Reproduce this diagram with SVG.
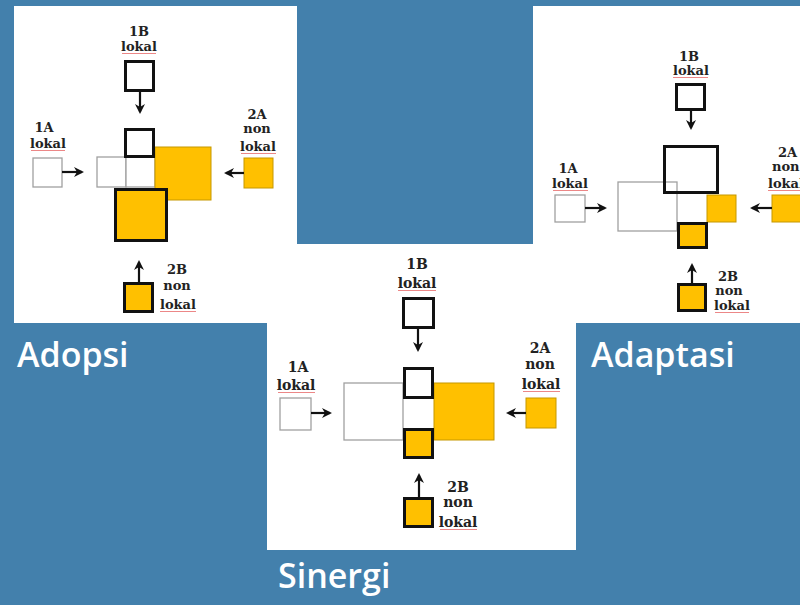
<svg xmlns="http://www.w3.org/2000/svg" width="800" height="605" viewBox="0 0 800 605">
<defs>
<style>
.panel{fill:#ffffff}
.thick{fill:none;stroke:#111;stroke-width:3}
.thickw{fill:#fff;stroke:#111;stroke-width:3}
.thin{fill:#fff;stroke:#a0a0a0;stroke-width:1.3}
.yel{fill:#FFC000;stroke:#c59800;stroke-width:1}
.yelthick{fill:#FFC000;stroke:#111;stroke-width:3}
.lbl{font-family:"DejaVu Serif",serif;font-weight:bold;font-size:13px;fill:#222;text-anchor:middle}
.lbl3{font-family:"DejaVu Serif",serif;font-weight:bold;font-size:14px;fill:#222;text-anchor:middle}
.ul{stroke:#e86a6a;stroke-width:1;opacity:0.8}
.arr{stroke:#111;stroke-width:2.2;fill:none;marker-end:url(#ah)}
.title{font-family:"Open Sans","Liberation Sans",sans-serif;font-weight:600;font-size:34px;fill:#ffffff}
</style>
<marker id="ah" viewBox="0 0 10 10" refX="8" refY="5" markerWidth="10" markerHeight="10" markerUnits="userSpaceOnUse" orient="auto">
<path d="M0,0 L10,5 L0,10 L3,5 z" fill="#111"/>
</marker>
</defs>
<rect x="0" y="0" width="800" height="605" fill="#4380ac"/>
<g id="panels">
<rect class="panel" x="14" y="6" width="283" height="317"/>
<rect class="panel" x="533" y="6" width="267" height="317"/>
<rect class="panel" x="267" y="244" width="309" height="306"/>
</g>

<!-- Panel 1: Adopsi -->
<g id="adopsi">
<g id="a-center">
<rect class="thin" x="97" y="157" width="29" height="30"/>
<rect class="thin" x="126" y="157" width="29" height="30"/>
<rect class="yel" x="155" y="147" width="56" height="53"/>
<rect class="thickw" x="125.5" y="129.5" width="28" height="27"/>
<rect class="yelthick" x="115.5" y="189.5" width="51" height="51"/>
</g>
<g id="a-1B">
<rect class="thickw" x="125.5" y="61.5" width="28" height="29"/>
<text class="lbl" x="139" y="36">1B</text>
<text class="lbl" x="139" y="51">lokal</text>
<line class="ul" x1="122" y1="53.5" x2="156" y2="53.5"/>
</g>
<g id="a-1A">
<rect class="thin" x="33" y="158" width="29" height="29"/>
<text class="lbl" x="44" y="132">1A</text>
<text class="lbl" x="48" y="148">lokal</text>
<line class="ul" x1="31" y1="150.5" x2="65" y2="150.5"/>
</g>
<g id="a-2A">
<rect class="yel" x="244" y="158" width="29" height="30"/>
<text class="lbl" x="257" y="119">2A</text>
<text class="lbl" x="257" y="133">non</text>
<text class="lbl" x="258" y="151">lokal</text>
<line class="ul" x1="241" y1="153.5" x2="276" y2="153.5"/>
</g>
<g id="a-2B">
<rect class="yelthick" x="124.5" y="283.5" width="28" height="28"/>
<text class="lbl" x="177" y="274">2B</text>
<text class="lbl" x="177" y="290">non</text>
<text class="lbl" x="178" y="309">lokal</text>
<line class="ul" x1="160" y1="311.5" x2="196" y2="311.5"/>
</g>
</g>

<!-- Panel 2: Adaptasi -->
<g id="adaptasi">
<g id="b-center">
<rect class="thin" x="618" y="182" width="59" height="49"/>
<rect class="yel" x="707" y="195" width="29" height="27"/>
<rect class="thick" x="664.5" y="146.5" width="53" height="46"/>
<rect class="yelthick" x="678.5" y="223.5" width="28" height="24"/>
</g>
<g id="b-1B">
<rect class="thickw" x="676.5" y="84.5" width="28" height="25"/>
<text class="lbl" x="689" y="61">1B</text>
<text class="lbl" x="691" y="75">lokal</text>
<line class="ul" x1="673" y1="77.5" x2="708" y2="77.5"/>
</g>
<g id="b-1A">
<rect class="thin" x="555" y="195" width="30" height="27"/>
<text class="lbl" x="568" y="173">1A</text>
<text class="lbl" x="570" y="188">lokal</text>
<line class="ul" x1="553" y1="190.5" x2="588" y2="190.5"/>
</g>
<g id="b-2A">
<rect class="yel" x="772" y="195" width="32" height="27"/>
<text class="lbl" x="778" y="157" style="text-anchor:start">2A</text>
<text class="lbl" x="772" y="171" style="text-anchor:start">non</text>
<text class="lbl" x="768" y="188" style="text-anchor:start">lokal</text>
<line class="ul" x1="768" y1="190.5" x2="800" y2="190.5"/>
</g>
<g id="b-2B">
<rect class="yelthick" x="678.5" y="284.5" width="27" height="26"/>
<text class="lbl" x="728" y="281">2B</text>
<text class="lbl" x="729" y="295">non</text>
<text class="lbl" x="732" y="310">lokal</text>
<line class="ul" x1="715" y1="312.5" x2="749" y2="312.5"/>
</g>
</g>

<!-- Panel 3: Sinergi -->
<g id="sinergi">
<g id="c-center">
<rect class="thin" x="344" y="383" width="59" height="57"/>
<rect class="yel" x="434" y="383" width="60" height="57"/>
<rect class="thickw" x="404.5" y="368.5" width="28" height="29"/>
<rect class="yelthick" x="404.5" y="429.5" width="28" height="28"/>
</g>
<g id="c-1B">
<rect class="thickw" x="403.5" y="298.5" width="30" height="29"/>
<text class="lbl3" x="417" y="269">1B</text>
<text class="lbl3" x="417" y="288">lokal</text>
<line class="ul" x1="398" y1="290.5" x2="436" y2="290.5"/>
</g>
<g id="c-1A">
<rect class="thin" x="280" y="398" width="31" height="32"/>
<text class="lbl3" x="298" y="372">1A</text>
<text class="lbl3" x="296" y="390">lokal</text>
<line class="ul" x1="278" y1="392.5" x2="315" y2="392.5"/>
</g>
<g id="c-2A">
<rect class="yel" x="526" y="398" width="30" height="30"/>
<text class="lbl3" x="540" y="353">2A</text>
<text class="lbl3" x="540" y="369">non</text>
<text class="lbl3" x="541" y="389">lokal</text>
<line class="ul" x1="523" y1="391.5" x2="560" y2="391.5"/>
</g>
<g id="c-2B">
<rect class="yelthick" x="404.5" y="498.5" width="28" height="28"/>
<text class="lbl3" x="458" y="492">2B</text>
<text class="lbl3" x="458" y="507">non</text>
<text class="lbl3" x="458" y="527">lokal</text>
<line class="ul" x1="440" y1="529.5" x2="477" y2="529.5"/>
</g>
</g>

<g id="connectors">
<line class="arr" x1="140" y1="92" x2="140" y2="112"/>
<line class="arr" x1="62" y1="172" x2="82" y2="172"/>
<line class="arr" x1="244" y1="173" x2="226" y2="173"/>
<line class="arr" x1="139" y1="282" x2="139" y2="262"/>
<line class="arr" x1="691" y1="111" x2="691" y2="128"/>
<line class="arr" x1="585" y1="208" x2="605" y2="208"/>
<line class="arr" x1="772" y1="208" x2="752" y2="208"/>
<line class="arr" x1="692" y1="283" x2="692" y2="265"/>
<line class="arr" x1="418" y1="329" x2="418" y2="350"/>
<line class="arr" x1="311" y1="413" x2="330" y2="413"/>
<line class="arr" x1="526" y1="413" x2="508" y2="413"/>
<line class="arr" x1="419" y1="497" x2="419" y2="475"/>
</g>

<g id="titles">
<text class="title" x="17" y="367">Adopsi</text>
<text class="title" x="591" y="367">Adaptasi</text>
<text class="title" x="278" y="588">Sinergi</text>
</g>
</svg>
